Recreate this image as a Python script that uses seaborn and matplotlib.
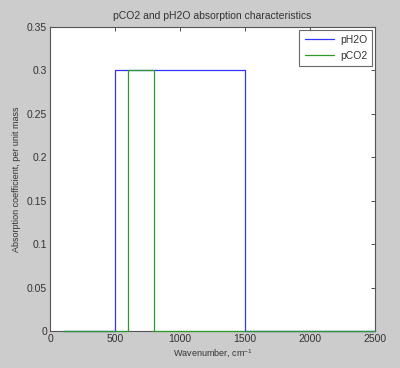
import matplotlib
matplotlib.use('Agg')
import matplotlib.pyplot as plt
import seaborn as sns

# Data
wavenumber = [100, 500, 500, 600, 600, 800, 800, 1500, 1500, 2500]
ph2o = [0, 0, 0.3, 0.3, 0.3, 0.3, 0.3, 0.3, 0, 0]
pco2 = [0, 0, 0, 0, 0.3, 0.3, 0, 0, 0, 0]

x_ticks = [0, 500, 1000, 1500, 2000, 2500]
y_ticks = [0, 0.05, 0.1, 0.15, 0.2, 0.25, 0.3, 0.35]
y_labels = ['0', '0.05', '0.1', '0.15', '0.2', '0.25', '0.3', '0.35']

sns.set_style('white')
plt.rcParams['font.family'] = ['Liberation Sans', 'DejaVu Sans']
plt.rcParams['mathtext.fontset'] = 'custom'
plt.rcParams['mathtext.rm'] = 'Liberation Sans'

fig = plt.figure(figsize=(4, 3.68), dpi=100, facecolor='#cccccc')
ax = fig.add_axes([0.125, 0.1, 0.8125, 0.8265])
ax.set_facecolor('white')

sns.lineplot(x=wavenumber, y=ph2o, estimator=None, sort=False, color='#3333ff',
             linewidth=0.9, label='pH2O', ax=ax, zorder=3, clip_on=False)
sns.lineplot(x=wavenumber, y=pco2, estimator=None, sort=False, color='#2e9a2e',
             linewidth=0.9, label='pCO2', ax=ax, zorder=3, clip_on=False)

ax.set_xlim(0, 2500)
ax.set_ylim(0, 0.35)
ax.set_xticks(x_ticks)
ax.set_yticks(y_ticks)
ax.set_yticklabels(y_labels)
ax.tick_params(direction='in', length=3, width=0.6, labelsize=7.5, colors='#333333',
               top=True, right=True, pad=2)
for s in ax.spines.values():
    s.set_color('#555555')
    s.set_linewidth(0.8)

ax.set_title('pCO2 and pH2O absorption characteristics', fontsize=7.5, color='#333333', pad=6)
ax.set_xlabel('Wavenumber, cm$^{-1}$', fontsize=6.5, color='#333333', labelpad=3)
ax.set_ylabel('Absorption coefficient, per unit mass', fontsize=6.5, color='#333333', labelpad=4)

leg = ax.legend(loc='upper right', fontsize=7.5, frameon=True, fancybox=False,
                borderaxespad=0.25, handlelength=2.8, labelspacing=0.55,
                borderpad=0.5, handletextpad=0.6)
leg.get_frame().set_edgecolor('#444444')
leg.get_frame().set_linewidth(0.8)
leg.set_zorder(5)
for t in leg.get_texts():
    t.set_color('#333333')

fig.savefig('out.png', dpi=100, facecolor=fig.get_facecolor())
